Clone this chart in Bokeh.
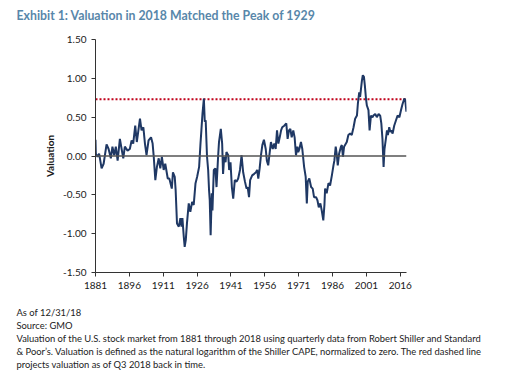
from bokeh.plotting import figure
from bokeh.models import Title, Range1d, FixedTicker, Span, NumeralTickFormatter
from bokeh.embed import file_html
from bokeh.resources import INLINE

years = [1881.0, 1881.15, 1881.9, 1882.6, 1883.7, 1884.6, 1885.9, 1886.8, 1887.8, 1888.5,
         1889.3, 1890.0, 1890.8, 1891.8, 1892.7, 1893.3, 1894.0, 1895.2, 1896.2, 1897.0,
         1897.7, 1898.6, 1899.3, 1900.0, 1900.7, 1901.4, 1902.2, 1902.9, 1903.6, 1904.5,
         1905.6, 1906.3, 1906.8, 1907.5, 1908.2, 1909.0, 1909.7, 1910.4, 1911.2, 1911.9,
         1913.0, 1913.7, 1914.8, 1915.3, 1916.1, 1916.5, 1917.1, 1917.9, 1918.6, 1919.1,
         1919.5, 1920.1, 1920.5, 1921.0, 1921.5, 1922.3, 1923.0, 1923.8, 1924.5, 1925.3,
         1926.0, 1926.9, 1927.5, 1927.9, 1928.4, 1929.0, 1929.4, 1929.8, 1930.4, 1930.9,
         1931.3, 1931.6, 1932.0, 1932.5, 1932.8, 1933.4, 1934.1, 1934.6, 1935.3, 1935.7,
         1936.5, 1937.1, 1937.5, 1938.0, 1938.6, 1939.0, 1939.8, 1940.2, 1940.8, 1941.4,
         1942.0, 1942.7, 1943.5, 1944.2, 1945.0, 1945.7, 1946.4, 1947.2, 1947.9, 1948.4,
         1949.0, 1949.5, 1950.4, 1951.3, 1952.1, 1952.6, 1953.1, 1953.7, 1954.3, 1954.9,
         1955.6, 1956.4, 1956.9, 1957.5, 1958.1, 1958.7, 1959.5, 1960.2, 1960.8, 1961.4,
         1962.0, 1962.6, 1963.2, 1963.7, 1964.6, 1965.5, 1966.1, 1966.7, 1967.3, 1967.9,
         1968.6, 1969.2, 1969.8, 1970.4, 1970.8, 1971.3, 1972.0, 1972.6, 1973.4, 1974.1,
         1974.6, 1975.0, 1975.7, 1976.5, 1977.2, 1977.8, 1978.7, 1979.3, 1979.9, 1980.6,
         1981.2, 1981.9, 1982.4, 1982.7, 1983.4, 1984.2, 1984.9, 1985.7, 1986.4, 1986.8,
         1987.4, 1987.9, 1988.3, 1988.9, 1989.7, 1990.1, 1990.6, 1991.1, 1992.3, 1993.0,
         1993.8, 1994.5, 1995.3, 1996.0, 1996.8, 1997.2, 1997.8, 1998.2, 1999.0, 1999.4,
         1999.9, 2000.3, 2000.8, 2001.2, 2001.9, 2002.4, 2003.0, 2003.7, 2004.1, 2004.9,
         2005.6, 2006.4, 2007.1, 2007.6, 2008.1, 2008.6, 2009.0, 2009.7, 2010.1, 2010.5,
         2011.1, 2011.6, 2012.0, 2012.6, 2013.3, 2014.1, 2014.8, 2015.6, 2016.3, 2017.0,
         2017.8, 2018.2, 2018.7]

valuation = [0.21, 0.03, -0.01, 0.03, -0.16, -0.10, 0.15, 0.09, -0.03, 0.12,
             0.01, 0.12, -0.06, 0.22, 0.07, -0.03, 0.12, 0.07, 0.09, 0.20,
             0.16, 0.39, 0.18, 0.33, 0.48, 0.33, 0.37, 0.16, 0.01, 0.20,
             0.24, 0.16, -0.01, -0.31, -0.14, -0.03, -0.16, -0.01, -0.18, -0.10,
             -0.29, -0.29, -0.42, -0.21, -0.27, -0.44, -0.87, -0.91, -0.80, -0.91,
             -0.80, -1.04, -1.17, -1.08, -0.87, -0.61, -0.72, -0.59, -0.63, -0.35,
             -0.27, -0.14, 0.16, 0.33, 0.55, 0.74, 0.44, 0.46, -0.01, -0.18,
             -0.44, -0.57, -1.02, -0.48, -0.70, -0.18, -0.16, -0.40, -0.01, 0.18,
             0.35, 0.16, -0.23, -0.01, -0.08, 0.05, 0.01, -0.18, -0.08, -0.40,
             -0.55, -0.31, -0.33, -0.29, -0.18, 0.01, -0.21, -0.33, -0.42, -0.40,
             -0.53, -0.31, -0.25, -0.23, -0.21, -0.18, -0.29, -0.16, 0.01, 0.14,
             0.21, 0.09, -0.06, -0.12, 0.03, 0.18, 0.09, 0.16, 0.09, 0.33,
             0.16, 0.24, 0.33, 0.37, 0.39, 0.42, 0.22, 0.33, 0.35, 0.24,
             0.33, 0.24, 0.01, 0.12, 0.05, 0.09, 0.18, 0.09, -0.14, -0.27,
             -0.61, -0.33, -0.29, -0.40, -0.42, -0.53, -0.53, -0.57, -0.66, -0.61,
             -0.70, -0.83, -0.63, -0.42, -0.48, -0.35, -0.38, -0.25, -0.12, -0.06,
             0.12, 0.01, -0.12, 0.03, 0.12, 0.14, -0.01, 0.12, 0.18, 0.27,
             0.29, 0.27, 0.37, 0.48, 0.52, 0.67, 0.82, 0.76, 0.97, 1.04,
             1.02, 0.91, 0.74, 0.65, 0.59, 0.33, 0.52, 0.50, 0.52, 0.54,
             0.50, 0.54, 0.52, 0.42, 0.22, -0.14, 0.09, 0.24, 0.33, 0.27,
             0.37, 0.31, 0.33, 0.29, 0.39, 0.46, 0.52, 0.50, 0.59, 0.67,
             0.74, 0.72, 0.57]

current_level = 0.73
x_ticks = [1881, 1896, 1911, 1926, 1941, 1956, 1971, 1986, 2001, 2016]
y_ticks = [-1.5, -1.0, -0.5, 0.0, 0.5, 1.0, 1.5]

title_text = "Exhibit 1: Valuation in 2018 Matched the Peak of 1929"
notes = [
    "As of 12/31/18",
    "Source: GMO",
    "Valuation of the U.S. stock market from 1881 through 2018 using quarterly data from Robert Shiller and Standard",
    "& Poor\u2019s. Valuation is defined as the natural logarithm of the Shiller CAPE, normalized to zero. The red dashed line",
    "projects valuation as of Q3 2018 back in time.",
]

FONT = "Lato"

p = figure(width=518, height=399, output_backend="svg", toolbar_location=None,
           x_range=Range1d(1881, 2018.75), y_range=Range1d(-1.5, 1.5),
           min_border_left=95, min_border_right=112, min_border_top=54, min_border_bottom=112,
           margin=(-15, 0, 0, 0))
p.outline_line_color = None
p.xgrid.visible = False
p.ygrid.visible = False
p.background_fill_color = "white"
p.border_fill_color = "white"

# axes
p.xaxis.ticker = FixedTicker(ticks=x_ticks)
p.yaxis.ticker = FixedTicker(ticks=y_ticks)
p.yaxis.formatter = NumeralTickFormatter(format="0.00")
for ax in (p.xaxis[0], p.yaxis[0]):
    ax.major_tick_in = 0
    ax.major_tick_out = 4
    ax.minor_tick_line_color = None
    ax.axis_line_color = "#333333"
    ax.major_tick_line_color = "#333333"
    ax.major_label_text_font = FONT
    ax.major_label_text_font_size = "10px"
    ax.major_label_text_color = "#1a1a1a"
p.xaxis.major_label_standoff = 5
p.yaxis.major_label_standoff = 5
p.yaxis.axis_label = "Valuation"
p.yaxis.axis_label_text_font = FONT
p.yaxis.axis_label_text_font_style = "bold"
p.yaxis.axis_label_text_font_size = "10px"
p.yaxis.axis_label_text_color = "#1a1a1a"
p.yaxis.axis_label_standoff = 4

# zero line
p.add_layout(Span(location=0, dimension="width", line_color="#555555", line_width=1.3))
# current level dotted
p.line(x=[years[0], 2018.75], y=[current_level, current_level], line_color="#c0001a",
       line_width=2, line_dash="2 2")
# series
p.line(x=years, y=valuation, line_color="#1f3864", line_width=2)

# title
p.add_layout(Title(text=title_text, align="left", offset=-79, standoff=34,
                   text_font=FONT, text_font_style="bold", text_font_size="12.3px",
                   text_color="#5887aa"), "above")
# spacer between axis and footnotes
p.add_layout(Title(text=" ", align="left", offset=-79, standoff=12,
                   text_font=FONT, text_font_size="1px"), "below")
# footnotes
for t in notes:
    p.add_layout(Title(text=t, align="left", offset=-79, standoff=0,
                       vertical_align="top",
                       text_font=FONT, text_font_style="normal", text_font_size="9.4px",
                       text_color="#222222"), "below")

open("out.html", "w").write(file_html(p, INLINE))
